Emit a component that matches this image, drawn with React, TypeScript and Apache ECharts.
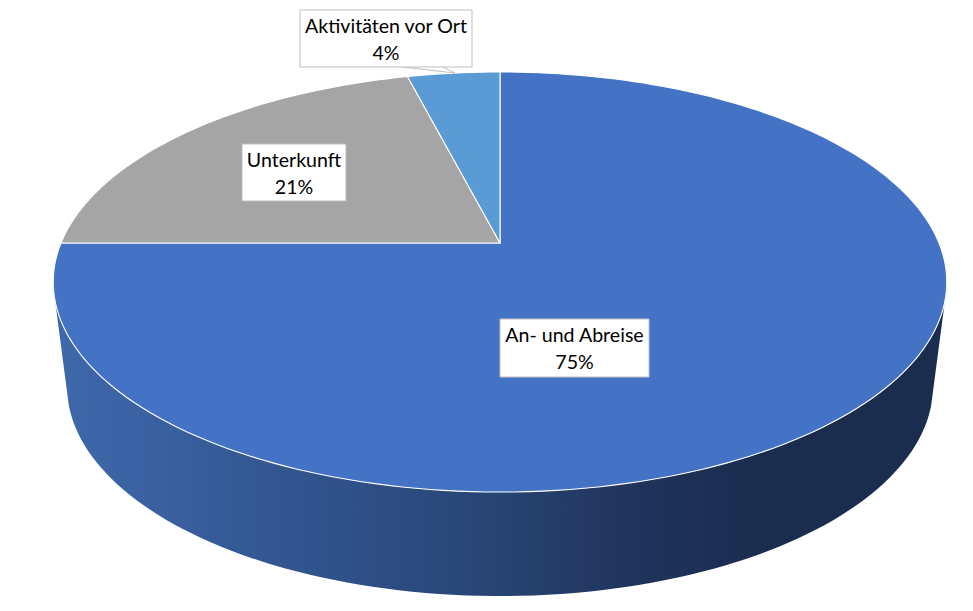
import React, { useEffect, useRef } from "react";
import * as echarts from "echarts";

const categories = ["An- und Abreise", "Unterkunft", "Aktivitäten vor Ort"];
const shares = [75, 21, 4];
const sliceColors = ["#4472C4", "#A5A5A5", "#5B9BD5"];

// label boxes: left, top, right, bottom
const labelBoxes = [
  [500, 319, 649, 377],
  [242, 144, 346, 201],
  [300, 10, 472, 67],
];

// perspective model of the tilted disc
const CX = 500;
const TOP_Y = 243;
const BOTTOM_Y = 347;
const K = 0.1857;
const AY = 202.8;
const BX_TOP = 439;
const BX_BOTTOM = 425.5;
const WALL_START = 106;
const WALL_END = 254;
const FONT = "Lato, 'Noto Sans', sans-serif";

const rad = (d: number) => (d * Math.PI) / 180;
const rim = (deg: number, bx: number, cy: number): number[] => {
  const u = Math.sin(rad(deg));
  const v = Math.cos(rad(deg));
  const w = 1 + K * v;
  return [CX + (bx * u) / w, cy - (AY * v) / w];
};
const arcPoints = (from: number, to: number, bx: number, cy: number) => {
  const out: number[][] = [];
  const n = Math.max(2, Math.ceil(Math.abs(to - from) / 1.5));
  for (let i = 0; i <= n; i++) out.push(rim(from + ((to - from) * i) / n, bx, cy));
  return out;
};

const total = shares.reduce((a, b) => a + b, 0);
const startAngle = (i: number) =>
  (shares.slice(0, i).reduce((a, b) => a + b, 0) / total) * 360;

function renderSlice(params: any, api: any) {
  const i = params.dataIndex;
  const from = startAngle(i);
  const to = from + (api.value(1) / total) * 360;
  const children: any[] = [];
  const a = Math.max(from, WALL_START);
  const b = Math.min(to, WALL_END);
  if (b > a) {
    const pts = [
      ...arcPoints(a, b, BX_TOP, TOP_Y),
      ...arcPoints(b, a, BX_BOTTOM, BOTTOM_Y),
    ];
    children.push({
      type: "polygon",
      shape: { points: pts },
      style: {
        fill: new echarts.graphic.LinearGradient(0, 0, 1, 0, [
          { offset: 0, color: "#3F69AC" },
          { offset: 0.33, color: "#2F5089" },
          { offset: 0.5, color: "#274472" },
          { offset: 0.67, color: "#1F3259" },
          { offset: 0.8, color: "#1A2D4F" },
          { offset: 1, color: "#1A2D4F" },
        ]),
        stroke: null,
      },
    });
  }
  children.push({
    type: "polygon",
    shape: { points: [[CX, TOP_Y], ...arcPoints(from, to, BX_TOP, TOP_Y)] },
    style: { fill: sliceColors[i], stroke: "#FFFFFF", lineWidth: 1.1, lineJoin: "round" },
  });
  return { type: "group", children };
}

function renderLabel(params: any, api: any) {
  const i = params.dataIndex;
  const [l, t, r, bt] = labelBoxes[i];
  const children: any[] = [];
  if (i === 2) {
    const anchor = rim(353, BX_TOP, TOP_Y);
    children.push({
      type: "polyline",
      shape: { points: [[402, bt], [anchor[0], anchor[1]], [443, bt]] },
      style: { fill: "#FFFFFF", stroke: "#BFBFBF", lineWidth: 1 },
    });
  }
  children.push({
    type: "rect",
    shape: { x: l, y: t, width: r - l, height: bt - t },
    style: { fill: "#FFFFFF", stroke: "#BFBFBF", lineWidth: 1 },
  });
  children.push({
    type: "text",
    style: {
      x: (l + r) / 2,
      y: (t + bt) / 2,
      text: `${categories[i]}\n${api.value(1)}%`,
      font: `19.6px ${FONT}`,
      fill: "#000000",
      align: "center",
      verticalAlign: "middle",
      lineHeight: 27,
    },
  });
  return { type: "group", children };
}

export default function App() {
  const ref = useRef<HTMLDivElement>(null);
  useEffect(() => {
    document.body.style.margin = "0";
    const chart = echarts.init(ref.current!, undefined, { renderer: "svg" });
    const data = shares.map((v, i) => [i, v]);
    chart.setOption({
      animation: false,
      backgroundColor: "#FFFFFF",
      series: [
        { type: "custom", coordinateSystem: "none", renderItem: renderSlice, data, z: 1, silent: true },
        { type: "custom", coordinateSystem: "none", renderItem: renderLabel, data, z: 2, silent: true },
      ],
    });
    return () => chart.dispose();
  }, []);
  return <div ref={ref} style={{ width: 973, height: 611 }} />;
}
